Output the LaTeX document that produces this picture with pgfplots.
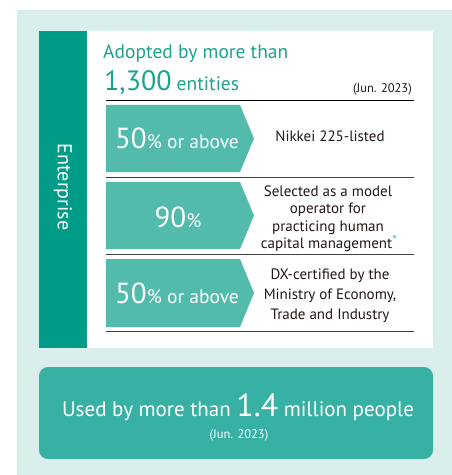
\documentclass[border=0pt]{standalone}
\usepackage{pgfplots}
\pgfplotsset{compat=1.18}
\usepackage{fontspec}
\setmainfont{PT Sans}
\definecolor{panel}{HTML}{DAEFEB}
\definecolor{bar}{HTML}{009C87}
\definecolor{head}{HTML}{1BA38F}
\definecolor{arrowc}{HTML}{52BBAB}
\definecolor{boxc}{HTML}{36B1A3}
\definecolor{txt}{HTML}{231815}
\definecolor{star}{HTML}{45B6E8}
\newcommand{\fs}[2]{\fontsize{#1bp}{#2bp}\selectfont}
\begin{document}
\begin{tikzpicture}
\begin{axis}[
  width=452bp, height=475bp, scale only axis,
  xmin=0, xmax=452, ymin=0, ymax=475, y dir=reverse,
  hide axis, clip=false,
]
% background and panel
\addplot[fill=white, draw=none] coordinates {(0,0) (452,0) (452,475) (0,475)} -- cycle;
\addplot[fill=panel, draw=none] coordinates {(17,10) (452,10) (452,475) (17,475)} -- cycle;
% white card
\addplot[fill=white, draw=none] coordinates {(39,31) (433,31) (433,348) (39,348)} -- cycle;
% dark side bar
\addplot[fill=bar, draw=none] coordinates {(39,31) (87,31) (87,348) (39,348)} -- cycle;
\node[rotate=-90, text=white, font=\fs{20}{22}] at (axis cs:63,187) {Enterprise};
% heading
\node[anchor=base west, text=head, font=\fs{19.5}{22}, inner sep=0pt] at (axis cs:103,58.5) {Adopted by more than};
\node[anchor=base west, text=head, inner sep=0pt] at (axis cs:104,91) {{\fs{28}{32}1,300}{\fs{19.5}{22} entities}};
\node[anchor=base east, text=txt, font=\fs{12.5}{14}, inner sep=0pt] at (axis cs:412,92.5) {(Jun. 2023)};
% separator lines
\addplot[draw=black, line width=0.9bp] coordinates {(106,100) (414,100)};
\addplot[draw=black!75, line width=0.9bp] coordinates {(106,177) (414,177)};
\addplot[draw=black!75, line width=0.9bp] coordinates {(106,254) (414,254)};
\addplot[draw=black!75, line width=0.9bp] coordinates {(106,331) (414,331)};
% arrows
\addplot[fill=arrowc, draw=none] coordinates {(106,105) (240,105) (254,138.5) (240,172) (106,172)} -- cycle;
\addplot[fill=arrowc, draw=none] coordinates {(106,182) (240,182) (254,215.5) (240,249) (106,249)} -- cycle;
\addplot[fill=arrowc, draw=none] coordinates {(106,259) (240,259) (254,293) (240,327) (106,327)} -- cycle;
% arrow texts
\node[anchor=base, text=white, inner sep=0pt] at (axis cs:177,148) {{\fs{29}{32}50}{\fs{19.5}{22}\% or above}};
\node[anchor=base, text=white, inner sep=0pt] at (axis cs:178,227) {{\fs{29}{32}90}{\fs{19.5}{22}\%}};
\node[anchor=base, text=white, inner sep=0pt] at (axis cs:177,303) {{\fs{29}{32}50}{\fs{19.5}{22}\% or above}};
% right texts
\node[anchor=base, text=txt, font=\fs{15}{17}, inner sep=0pt] at (axis cs:330,141) {Nikkei 225-listed};
\node[anchor=base, text=txt, font=\fs{15}{17}, inner sep=0pt] at (axis cs:328,196) {Selected as a model};
\node[anchor=base, text=txt, font=\fs{15}{17}, inner sep=0pt] at (axis cs:328,213.5) {operator for};
\node[anchor=base, text=txt, font=\fs{15}{17}, inner sep=0pt] at (axis cs:328,231) {practicing human};
\node[anchor=base, text=txt, font=\fs{15}{17}, inner sep=0pt] at (axis cs:329,248) {capital management\raisebox{3bp}{\textcolor{star}{\fs{14}{14}*}}};
\node[anchor=base, text=txt, font=\fs{15}{17}, inner sep=0pt] at (axis cs:330,279) {DX-certified by the};
\node[anchor=base, text=txt, font=\fs{15}{17}, inner sep=0pt] at (axis cs:330,299) {Ministry of Economy,};
\node[anchor=base, text=txt, font=\fs{15}{17}, inner sep=0pt] at (axis cs:330,319) {Trade and Industry};
% bottom box
\fill[boxc, rounded corners=9bp] (axis cs:39,367) rectangle (axis cs:433,459);
\node[anchor=base, text=white, inner sep=0pt] at (axis cs:238,416) {{\fs{21}{24}Used by more than }{\fs{32}{34}1.4}{\fs{21}{24} million people}};
\node[anchor=base, text=white, font=\fs{12.5}{14}, inner sep=0pt] at (axis cs:239,438) {(Jun. 2023)};
\end{axis}
\end{tikzpicture}
\end{document}
